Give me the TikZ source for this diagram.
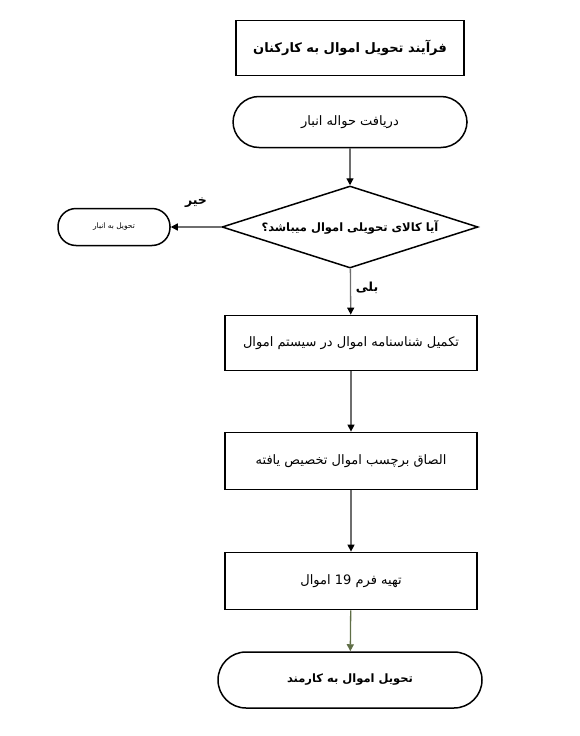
\documentclass[tikz,border=0pt]{standalone}
\usepackage{fontspec}
\newfontfamily\fafont[Script=Arabic]{DejaVu Sans}
\TeXXeTstate=1
\usetikzlibrary{shapes.geometric, positioning, arrows.meta}
\definecolor{LineGray}{RGB}{110,110,110}
\definecolor{LastOlive}{RGB}{95,110,70}
\newcommand{\fa}[1]{\fafont\beginR #1\endR}
\begin{document}
\begin{tikzpicture}[x=1pt, y=-1pt,
          titlebox/.style={rectangle, draw=black, line width=1.8pt,
                      minimum width=228pt, minimum height=55pt,
                      font=\fontsize{13}{15}\selectfont\bfseries},
          stepbox/.style={rectangle, draw=black, line width=1.8pt,
                      minimum width=252pt, minimum height=55pt,
                      font=\fontsize{13}{15}\selectfont},
          term/.style={rectangle, rounded corners=26pt, draw=black,
                      line width=1.5pt, minimum width=234pt,
                      minimum height=51pt, font=\fontsize{13}{15}\selectfont},
          decision/.style={diamond, aspect=3.12, draw=black, line width=1.5pt,
                      minimum width=256pt, minimum height=82pt,
                      inner sep=0pt, font=\fontsize{11.5}{14}\selectfont\bfseries},
          arr/.style={-{Triangle[length=7pt, width=7pt, color=black]},
                      LineGray, line width=1.3pt}
        ]
        \useasboundingbox (0,0) rectangle (580,736);

        \node[titlebox] (title) at (350, 48)
              {\fa{فرآیند تحویل اموال به کارکنان}};
        \node[term] (start) at (350, 122)
              {\fa{دریافت حواله انبار}};
        \node[decision] (ask) at (350, 227)
              {\fa{آیا کالای تحویلی اموال میباشد؟}};
        \node[term, minimum width=112pt, minimum height=37pt,
              rounded corners=18pt, font=\fontsize{7.5}{9}\selectfont]
              (store) at (114, 227) {\fa{تحویل به انبار}};
        \node[stepbox] (card) at (351, 343)
              {\fa{تکمیل شناسنامه اموال در سیستم اموال}};
        \node[stepbox, minimum height=57pt] (label) at (351, 461)
              {\fa{الصاق برچسب اموال تخصیص یافته}};
        \node[stepbox, minimum height=57pt] (form) at (351, 581)
              {\fa{تهیه فرم \beginL 19\endL{} اموال}};
        \node[term, minimum width=264pt, minimum height=56pt,
              rounded corners=28pt, font=\fontsize{11.5}{14}\selectfont\bfseries]
              (deliver) at (350, 680) {\fa{تحویل اموال به کارمند}};

        % branch labels
        \node[font=\fontsize{12.5}{14}\selectfont\bfseries] (no) at (196, 203)
              {\fa{خیر}};
        \node[font=\fontsize{12.5}{14}\selectfont\bfseries] (yes) at (367, 288)
              {\fa{بلی}};

        \draw[arr] (start) -- (ask);
        \draw[arr] (ask) -- (store);
        \draw[arr] (ask) -- (card);
        \draw[arr] (card) -- (label);
        \draw[arr] (label) -- (form);
        \draw[arr, LastOlive, -{Triangle[length=7pt, width=7pt, color=LastOlive]}]
              (form) -- (deliver);
      \end{tikzpicture}
\end{document}
